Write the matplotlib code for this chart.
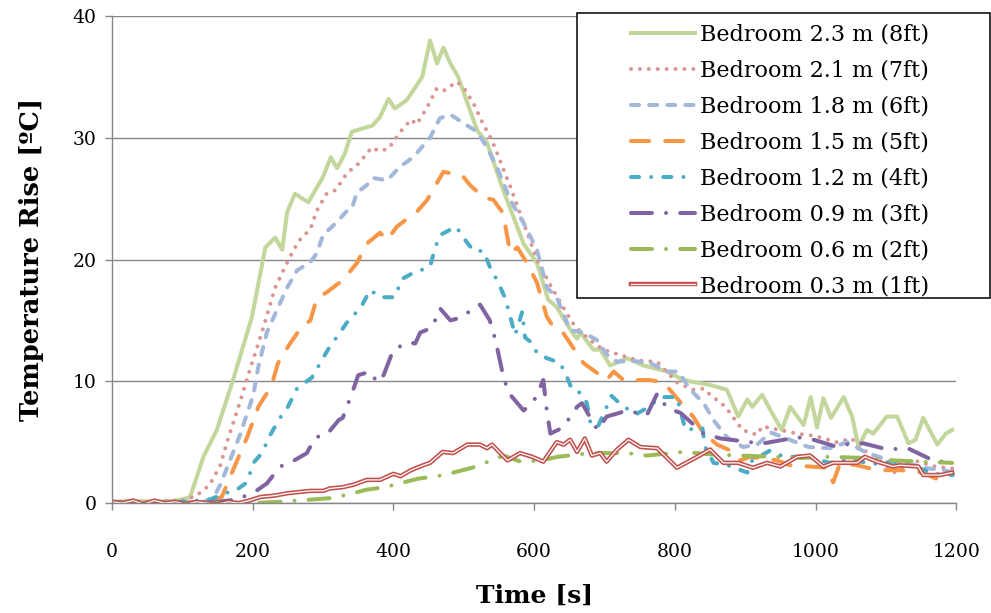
import matplotlib
matplotlib.use('Agg')
import matplotlib.pyplot as plt
import matplotlib.patheffects as pe
from matplotlib.patches import Rectangle

plt.rcParams['font.family'] = ['DejaVu Serif']

# --- data (time s, temperature rise C) ---
t_23 = [0, 30, 60, 90, 100, 111, 130, 149, 172, 199, 218, 232, 242, 249, 260, 279, 300, 311, 320, 331,
        341, 370, 381, 393, 402, 419, 441, 452, 462, 471, 481, 492, 519, 533, 556, 585, 604, 620, 632, 654,
        661, 666, 684, 694, 708, 732, 755, 789, 812, 850, 874, 890, 903, 910, 924, 938, 952, 964, 983, 993,
        1002, 1011, 1022, 1040, 1052, 1061, 1073, 1082, 1101, 1116, 1132, 1142, 1153, 1173, 1185, 1194]
T_23 = [0.1, 0.2, 0.1, 0.2, 0.3, 0.5, 3.8, 6.0, 10.1, 15.3, 21.0, 21.8, 20.8, 23.9, 25.4, 24.7, 26.8, 28.4, 27.5, 28.7,
        30.5, 31.0, 31.7, 33.2, 32.4, 33.1, 35.0, 38.0, 36.1, 37.4, 36.1, 35.0, 30.6, 29.6, 25.7, 21.3, 19.7, 16.7, 16.1, 14.0,
        13.5, 14.0, 12.6, 12.6, 11.3, 11.9, 11.3, 10.8, 10.1, 9.7, 9.3, 7.1, 8.5, 7.9, 8.9, 7.4, 6.0, 7.9, 6.4, 8.7,
        6.2, 8.6, 7.0, 8.7, 7.1, 4.6, 6.0, 5.7, 7.1, 7.1, 4.9, 5.2, 7.0, 4.8, 5.7, 6.0]

t_21 = [0, 50, 100, 120, 139, 154, 165, 182, 199, 213, 232, 251, 265, 282, 291, 305, 318, 334, 351, 369,
        380, 393, 410, 425, 433, 448, 461, 470, 490, 500, 514, 526, 540, 566, 585, 604, 623, 641, 658, 677,
        698, 720, 748, 775, 803, 826, 841, 850, 872, 896, 917, 924, 974, 1000, 1030, 1052, 1059, 1080, 1113, 1140,
        1170, 1200]
T_21 = [0.1, 0.1, 0.2, 0.6, 1.5, 3.1, 5.3, 8.3, 11.5, 14.0, 17.7, 20.0, 21.5, 22.5, 24.0, 25.4, 25.7, 27.1, 27.9, 29.2,
        28.9, 29.1, 30.5, 31.5, 31.1, 32.5, 34.0, 33.8, 34.6, 34.1, 32.8, 31.3, 29.8, 26.0, 23.0, 20.0, 17.9, 16.1, 14.5, 13.5,
        12.6, 12.2, 11.7, 11.6, 9.9, 9.3, 9.4, 8.9, 7.9, 6.0, 5.6, 6.3, 5.7, 5.5, 5.0, 5.3, 4.6, 4.0, 2.5, 3.5,
        3.0, 2.8]

t_18 = [0, 50, 100, 130, 144, 154, 182, 201, 208, 220, 234, 249, 263, 282, 291, 300, 320, 334, 341, 348,
        362, 371, 391, 409, 428, 452, 466, 481, 505, 519, 533, 547, 566, 585, 604, 618, 632, 651, 670, 689,
        703, 718, 737, 765, 789, 805, 822, 841, 855, 874, 897, 917, 936, 954, 990, 1020, 1045, 1073, 1106, 1130,
        1153, 1182, 1195]
T_18 = [0.1, 0.0, 0.1, 0.1, 0.4, 1.5, 5.6, 8.9, 11.2, 14.0, 15.8, 17.7, 19.1, 19.8, 20.5, 22.0, 23.1, 24.0, 24.2, 25.5,
        26.1, 26.7, 26.5, 27.6, 28.4, 30.0, 31.6, 31.9, 31.0, 30.5, 29.2, 27.6, 24.9, 23.0, 20.8, 17.7, 16.9, 14.2, 14.0, 13.4,
        12.2, 11.6, 11.7, 11.5, 10.8, 10.8, 9.3, 8.2, 6.8, 5.4, 4.6, 4.8, 5.8, 5.4, 4.6, 4.5, 5.0, 4.1, 3.5, 3.3,
        2.9, 2.7, 2.5]

t_15 = [0, 50, 100, 140, 156, 172, 192, 208, 220, 229, 236, 253, 270, 282, 291, 305, 328, 348, 362, 381,
        391, 405, 414, 433, 448, 462, 471, 498, 509, 528, 542, 556, 566, 576, 590, 604, 618, 627, 641, 670,
        689, 703, 713, 727, 765, 784, 793, 812, 826, 841, 860, 883, 893, 907, 945, 964, 992, 1016, 1025, 1035,
        1059, 1088, 1120, 1153, 1167, 1187]
T_15 = [0.0, 0.1, 0.0, 0.1, 0.5, 2.7, 5.4, 7.9, 9.0, 10.1, 11.5, 13.1, 14.5, 15.0, 16.8, 17.3, 18.3, 19.7, 21.3, 22.2,
        21.6, 22.7, 23.1, 23.9, 24.9, 26.3, 27.2, 26.9, 26.1, 25.1, 24.9, 23.8, 20.5, 21.0, 19.7, 18.1, 15.3, 14.5, 14.0, 11.5,
        10.7, 10.1, 10.8, 10.1, 10.1, 9.9, 9.3, 8.0, 7.1, 5.7, 4.8, 4.2, 3.5, 3.8, 3.5, 3.1, 3.0, 2.9, 1.7, 3.3,
        3.1, 2.7, 2.7, 2.5, 2.1, 1.7]

t_12 = [0, 50, 100, 140, 160, 175, 192, 201, 213, 225, 239, 250, 263, 284, 293, 309, 324, 336, 353, 367,
        381, 402, 412, 428, 452, 459, 466, 489, 502, 514, 528, 537, 549, 559, 566, 573, 583, 587, 598, 604,
        618, 637, 647, 654, 668, 675, 680, 690, 700, 710, 725, 745, 760, 780, 803, 815, 839, 843, 855, 875,
        903, 910, 935, 955, 990, 1020, 1050, 1080, 1110, 1140, 1170, 1195]
T_12 = [0.1, 0.0, 0.1, 0.3, 0.8, 1.0, 1.7, 3.3, 4.1, 5.6, 7.0, 7.9, 9.4, 10.3, 11.2, 12.8, 14.0, 15.0, 16.0, 17.5,
        16.9, 16.9, 18.4, 18.9, 19.4, 20.9, 22.0, 22.7, 21.6, 20.7, 20.7, 19.4, 18.1, 16.8, 15.3, 13.8, 15.7, 13.6, 13.1, 12.3,
        11.9, 11.5, 10.3, 9.3, 9.0, 8.2, 6.6, 6.2, 7.5, 8.8, 8.0, 7.3, 7.8, 8.7, 8.7, 6.0, 6.2, 4.6, 3.3, 3.1,
        2.5, 3.5, 4.3, 3.8, 3.8, 3.3, 3.6, 3.2, 3.4, 3.0, 2.4, 2.3]

t_09 = [0, 50, 100, 150, 180, 193, 205, 220, 239, 253, 277, 289, 305, 322, 328, 341, 350, 367, 377, 386,
        400, 421, 431, 438, 455, 466, 481, 500, 512, 523, 537, 545, 555, 563, 585, 599, 613, 618, 623, 641,
        661, 668, 690, 703, 715, 732, 760, 775, 789, 808, 841, 865, 907, 926, 974, 997, 1031, 1050, 1068, 1102,
        1131, 1167, 1180]
T_09 = [0.0, 0.0, 0.0, 0.1, 0.3, 0.7, 1.0, 1.6, 3.0, 3.3, 4.1, 5.4, 5.6, 6.8, 7.0, 9.0, 10.5, 10.8, 9.9, 10.5,
        12.6, 13.2, 13.1, 14.0, 14.4, 16.0, 15.0, 15.3, 16.0, 16.3, 15.0, 13.4, 10.7, 9.1, 7.6, 8.3, 10.1, 7.6, 5.7, 6.2,
        7.9, 8.2, 6.0, 7.1, 7.3, 7.6, 7.2, 9.0, 7.8, 7.4, 5.7, 5.3, 5.0, 4.9, 5.4, 5.2, 4.6, 4.9, 4.9, 4.4,
        4.5, 3.5, 3.4]

t_06 = [0, 50, 100, 150, 200, 240, 263, 310, 336, 362, 388, 435, 462, 485, 512, 535, 556, 581, 610, 634,
        680, 733, 760, 812, 850, 890, 940, 980, 1020, 1068, 1110, 1148, 1194]
T_06 = [0.0, 0.0, 0.0, 0.0, 0.0, 0.1, 0.2, 0.4, 0.7, 1.1, 1.3, 2.0, 2.2, 2.5, 2.9, 3.4, 3.9, 3.4, 3.5, 3.8,
        4.1, 4.1, 3.9, 4.2, 4.0, 3.9, 3.8, 3.7, 3.8, 3.7, 3.5, 3.4, 3.3]

t_03 = [0, 15, 30, 45, 60, 75, 90, 105, 120, 135, 150, 165, 180, 195, 211, 230, 249, 265, 282, 300,
        310, 328, 343, 362, 381, 400, 410, 425, 442, 452, 470, 485, 505, 523, 533, 540, 562, 580, 597, 613,
        632, 642, 651, 661, 672, 682, 694, 703, 718, 734, 751, 775, 803, 832, 850, 869, 890, 911, 931, 950,
        974, 992, 1011, 1025, 1059, 1070, 1087, 1110, 1120, 1146, 1153, 1177, 1194]
T_03 = [0.1, 0.0, 0.2, -0.1, 0.2, 0.0, 0.1, -0.1, 0.1, 0.0, -0.1, 0.1, 0.0, 0.2, 0.5, 0.6, 0.8, 0.9, 1.0, 1.0,
        1.2, 1.3, 1.5, 1.9, 1.9, 2.4, 2.2, 2.7, 3.1, 3.3, 4.2, 4.1, 4.8, 4.8, 4.5, 4.8, 3.5, 4.1, 3.8, 3.4,
        5.0, 4.8, 5.2, 4.2, 5.3, 3.9, 4.1, 3.4, 4.4, 5.2, 4.6, 4.5, 2.9, 3.8, 4.4, 3.3, 3.3, 2.9, 3.3, 3.0,
        3.8, 3.9, 3.0, 3.3, 3.3, 3.8, 3.4, 3.0, 3.1, 3.0, 2.3, 2.3, 2.5]

labels = ['Bedroom 2.3 m (8ft)', 'Bedroom 2.1 m (7ft)', 'Bedroom 1.8 m (6ft)', 'Bedroom 1.5 m (5ft)',
          'Bedroom 1.2 m (4ft)', 'Bedroom 0.9 m (3ft)', 'Bedroom 0.6 m (2ft)', 'Bedroom 0.3 m (1ft)']
x_ticks = [0, 200, 400, 600, 800, 1000, 1200]
y_ticks = [0, 10, 20, 30, 40]

fig = plt.figure(figsize=(9.91, 6.13), dpi=100)
ax = fig.add_axes([0.113, 0.1794, 0.852, 0.7945])

lw = 2.9
grey = '#868686'
ax.plot(t_23, T_23, color='#C3D69B', lw=lw, solid_joinstyle='round', label=labels[0])
ax.plot(t_21, T_21, color='#D99694', lw=lw, dashes=(0.01, 2.2), dash_capstyle='round', label=labels[1])
ax.plot(t_18, T_18, color='#A3B7DA', lw=lw, dashes=(2.0, 2.5), dash_capstyle='round', label=labels[2])
ax.plot(t_15, T_15, color='#F79646', lw=lw, dashes=(4.5, 4.0), dash_capstyle='round', label=labels[3])
ax.plot(t_12, T_12, color='#4BACC6', lw=lw, dashes=(2.0, 3.0, 0.01, 3.0), dash_capstyle='round', label=labels[4])
ax.plot(t_09, T_09, color='#8064A2', lw=lw, dashes=(5.2, 3.5, 0.01, 3.5), dash_capstyle='round', label=labels[5])
ax.plot(t_06, T_06, color='#9BBB59', lw=lw, dashes=(5.2, 3.5, 0.01, 3.5), dash_capstyle='round', label=labels[6])
ax.plot(t_03, T_03, color='white', lw=0.9, label=labels[7],
        path_effects=[pe.Stroke(linewidth=3.2, foreground='#C0504D'), pe.Normal()])

ax.set_xlim(0, 1200)
ax.set_ylim(0, 40)
ax.set_xticks(x_ticks)
ax.set_yticks(y_ticks)
ax.yaxis.grid(True, color=grey, lw=1.0)
ax.set_axisbelow(True)
for s in ['top', 'right']:
    ax.spines[s].set_visible(False)
for s in ['left', 'bottom']:
    ax.spines[s].set_color(grey)
    ax.spines[s].set_linewidth(1.0)
ax.tick_params(axis='both', direction='out', length=5, width=1.0, color=grey, labelsize=13.5)
ax.tick_params(axis='x', pad=24)
ax.tick_params(axis='y', pad=6)

ax.set_xlabel('Time [s]', fontsize=18, fontweight='bold', labelpad=16)
ax.set_ylabel('Temperature Rise [ºC]', fontsize=18.5, fontweight='bold', labelpad=21)

# legend box, sits over the top right of the plot
box = Rectangle((577 / 991, 1 - 298 / 613), 412.5 / 991, 285 / 613, transform=fig.transFigure,
                facecolor='white', edgecolor='black', lw=1.1, zorder=5)
fig.add_artist(box)
handles, labs = ax.get_legend_handles_labels()
leg = fig.legend(handles, labs, loc='upper left', bbox_to_anchor=(631 / 991, 1 - 24 / 613),
                 frameon=False, fontsize=16, handlelength=2.9, handletextpad=0.22,
                 labelspacing=0.625, borderpad=0, borderaxespad=0)
leg.set_zorder(6)

fig.savefig('out.png', dpi=100)
